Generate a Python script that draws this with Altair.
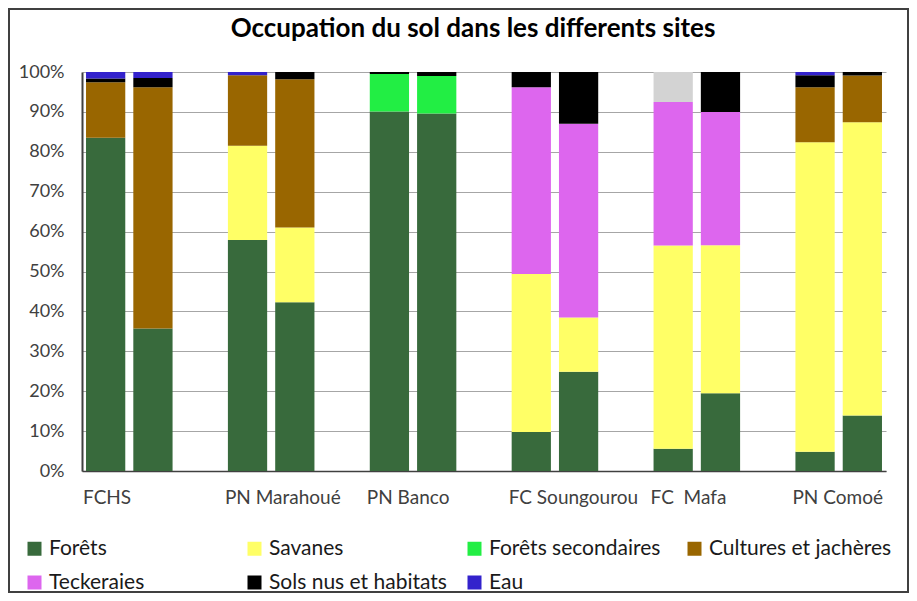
import altair as alt
import pandas as pd

# ---- data ----
sites = ["FCHS", "PN Marahoué", "PN Banco", "FC Soungourou", "FC\u00a0 Mafa", "PN Comoé"]
periods = ["1", "2"]

classes = ["Forêts", "Savanes", "Forêts secondaires", "Cultures et jachères",
           "Teckeraies", "Sols nus et habitats", "Eau", "Non classé"]
colors = ["#386a3c", "#ffff66", "#22ee44", "#996600",
          "#dd66ee", "#000000", "#3322cc", "#d3d3d3"]

# one value per bar: FCHS 1/2, PN Marahoué 1/2, PN Banco 1/2,
# FC Soungourou 1/2, FC Mafa 1/2, PN Comoé 1/2  (percent)
forets = [83.5, 35.7, 57.9, 42.3, 90.1, 89.6, 9.8, 24.9, 5.6, 19.5, 4.8, 13.9]
savanes = [0, 0, 23.6, 18.7, 0, 0, 39.6, 13.6, 50.9, 37.1, 77.6, 73.5]
forets_sec = [0, 0, 0, 0, 9.4, 9.4, 0, 0, 0, 0, 0, 0]
cultures = [13.9, 60.5, 17.7, 37.2, 0, 0, 0, 0, 0, 0, 13.8, 11.7]
teckeraies = [0, 0, 0, 0, 0, 0, 46.8, 48.5, 36.0, 33.4, 0, 0]
sols_nus = [1.0, 2.3, 0, 1.8, 0.5, 1.0, 3.8, 13.0, 0, 10.0, 3.0, 0.9]
eau = [1.6, 1.5, 0.8, 0, 0, 0, 0, 0, 0, 0, 0.8, 0]
non_classe = [0, 0, 0, 0, 0, 0, 0, 0, 7.5, 0, 0, 0]

series = [forets, savanes, forets_sec, cultures, teckeraies, sols_nus, eau, non_classe]

# ---- build table ----
slots = []
for si, s in enumerate(sites):
    slots += [f"{s}|{p}" for p in periods]
    if si < len(sites) - 1:
        slots.append(f"{s}|-")

rows = []
for ci, (cls, vals) in enumerate(zip(classes, series)):
    for i, v in enumerate(vals):
        if v > 0:
            rows.append({"slot": f"{sites[i // 2]}|{periods[i % 2]}",
                         "classe": cls, "valeur": v, "ordre": ci})
df = pd.DataFrame(rows)

FONT = "Lato"
W, H = 804, 399

bars = alt.Chart(df).mark_bar().encode(
    x=alt.X("slot:N", sort=slots,
            scale=alt.Scale(domain=slots, paddingInner=0.17, paddingOuter=0.085),
            axis=alt.Axis(title=None,
                          labelExpr="split(datum.value,'|')[1]=='1' ? split(datum.value,'|')[0] : ''",
                          labelAngle=0, labelAlign="left", labelOffset=-22.6,
                          labelOverlap=False, labelBound=False, labelLimit=300,
                          ticks=False, tickSize=0, labelPadding=17,
                          labelFont=FONT, labelFontSize=19, labelColor="#404040",
                          domainColor="#404040", domainWidth=1.5, grid=False)),
    y=alt.Y("valeur:Q", stack="normalize",
            scale=alt.Scale(domain=[0, 1], nice=False),
            axis=alt.Axis(title=None, format="%",
                          values=[i / 10 for i in range(11)],
                          ticks=False, tickSize=0, labelPadding=18,
                          labelFont=FONT, labelFontSize=18, labelColor="#404040",
                          domainColor="#404040", domainWidth=2,
                          grid=True, gridColor="#a6a6a6", gridWidth=1)),
    color=alt.Color("classe:N",
                    scale=alt.Scale(domain=classes, range=colors),
                    legend=alt.Legend(title=None, values=classes[:7],
                                      orient="none", legendX=-58, legendY=466,
                                      direction="horizontal",
                                      columns=4, gridAlign="all",
                                      columnPadding=12, rowPadding=12,
                                      symbolType="square", symbolSize=196,
                                      symbolStrokeWidth=0, labelOffset=4,
                                      labelFont=FONT, labelFontSize=21,
                                      labelColor="#1a1a1a", labelLimit=300)),
    order=alt.Order("ordre:Q"),
)

frame = alt.Chart(pd.DataFrame({"f": [0]})).mark_rect(
    filled=False, stroke="#404040", strokeWidth=2
).encode(
    x=alt.value(-73), x2=alt.value(826),
    y=alt.value(-63), y2=alt.value(520),
)

chart = alt.layer(bars, frame).properties(
    width=W, height=H,
    title=alt.TitleParams("Occupation du sol dans les differents sites",
                          font=FONT, fontSize=26, fontWeight="bold",
                          color="#000000", offset=-34, dx=-11, frame="group"),
    padding={"left": 74, "top": 64, "right": 23, "bottom": 122},
    autosize=alt.AutoSizeParams(type="none"),
).configure_view(strokeWidth=0)

chart.save("out.html", embed_options={"renderer": "svg", "actions": False})
